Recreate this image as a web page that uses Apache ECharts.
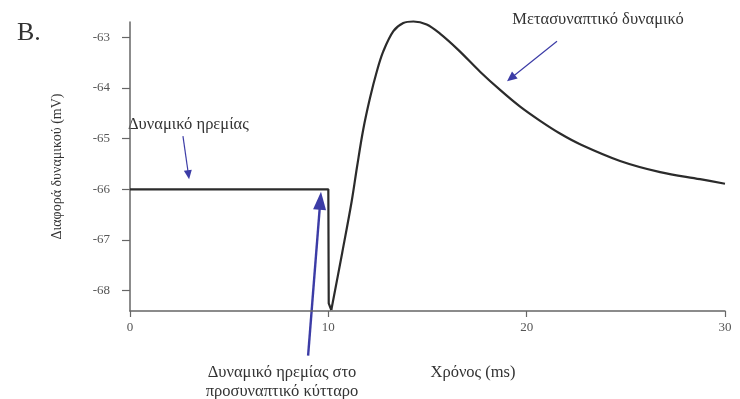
<!DOCTYPE html>
<html>
<head>
    <meta charset="utf-8">
    <title>Μετασυναπτικό δυναμικό</title>
    <script src="https://cdn.jsdelivr.net/npm/echarts@6/dist/echarts.min.js"></script>
    <style>
        html, body {margin:0;padding:0;background:#fff;}
        #chart {width:740px;height:399px;}
    </style>
</head>
<body>
<div id="chart"></div>
<script>
    // τιμές διαβασμένες από την εικόνα (ms, mV)
    var restTime = [0, 10, 10.02, 10.15];
    var restValue = [-66, -66, -68.25, -68.38];
    var postTime = [10.15, 10.7, 11.18, 11.45, 11.76, 12.1, 12.44, 12.77, 13.28, 13.78, 14.29, 14.96, 15.63, 16.55, 17.65, 18.66, 19.67, 20.68, 21.68, 22.69, 24.71, 26.73, 28.74, 30];
    var postValue = [-68.38, -67.25, -66.23, -65.55, -64.82, -64.2, -63.68, -63.28, -62.88, -62.72, -62.69, -62.75, -62.93, -63.25, -63.68, -64.04, -64.37, -64.65, -64.9, -65.11, -65.44, -65.66, -65.8, -65.89];
    var xTicks = [0, 10, 20, 30];
    var yTicks = [-68, -67, -66, -65, -64, -63];

    var FONT = 'Liberation Serif';
    var INK = '#2b2b2b';
    var BLUE = '#3c3ca6';

    function zip(a, b) {
        var out = [];
        for (var i = 0; i < a.length; i++) out.push([a[i], b[i]]);
        return out;
    }

    var chart = echarts.init(document.getElementById('chart'));
    chart.setOption({
        animation: false,
        grid: {left: 130, right: 15, top: 22, bottom: 88},
        xAxis: {
            type: 'value', min: 0, max: 30,
            splitLine: {show: false},
            axisLine: {lineStyle: {color: '#666', width: 1.5}},
            axisTick: {customValues: xTicks, length: 6, lineStyle: {color: '#666', width: 1.2}},
            axisLabel: {customValues: xTicks, margin: 10, color: '#555', fontFamily: FONT, fontSize: 13}
        },
        yAxis: {
            type: 'value', min: -68.4, max: -62.7,
            name: 'Διαφορά δυναμικού (mV)',
            nameLocation: 'middle', nameGap: 66, nameRotate: 90,
            nameTextStyle: {color: '#333', fontFamily: FONT, fontSize: 14},
            splitLine: {show: false},
            axisLine: {show: true, lineStyle: {color: '#666', width: 1.5}},
            axisTick: {show: true, customValues: yTicks, length: 8, lineStyle: {color: '#666', width: 1.2}},
            axisLabel: {customValues: yTicks, margin: 20, color: '#555', fontFamily: FONT, fontSize: 13}
        },
        series: [
            {
                type: 'line', data: zip(restTime, restValue), symbol: 'none', clip: false,
                lineStyle: {color: INK, width: 2.2}
            },
            {
                type: 'line', data: zip(postTime, postValue), symbol: 'none',
                smooth: 0.35, clip: false,
                lineStyle: {color: INK, width: 2.2}
            }
        ]
    });

    // βέλη σχολιασμού: [από, προς] σε συντεταγμένες δεδομένων
    var arrows = [
        {from: [2.67, -64.95], to: [2.98, -65.8], w: 1.2, head: 9, half: 4},
        {from: [8.98, -69.28], to: [9.63, -66.05], w: 2.4, head: 18, half: 6.5},
        {from: [21.53, -63.08], to: [19.01, -63.87], w: 1.2, head: 10, half: 4.5}
    ];

    var graphics = [];
    arrows.forEach(function (a) {
        var p0 = chart.convertToPixel({gridIndex: 0}, a.from);
        var p1 = chart.convertToPixel({gridIndex: 0}, a.to);
        var dx = p1[0] - p0[0], dy = p1[1] - p0[1];
        var len = Math.sqrt(dx * dx + dy * dy);
        var ux = dx / len, uy = dy / len;
        var bx = p1[0] - ux * a.head, by = p1[1] - uy * a.head;
        graphics.push({
            type: 'line',
            shape: {x1: p0[0], y1: p0[1], x2: bx + ux * 2, y2: by + uy * 2},
            style: {stroke: BLUE, lineWidth: a.w}
        });
        graphics.push({
            type: 'polygon',
            shape: {points: [[p1[0], p1[1]], [bx - uy * a.half, by + ux * a.half], [bx + uy * a.half, by - ux * a.half]]},
            style: {fill: BLUE}
        });
    });

    function label(text, x, y, size, align) {
        return {
            type: 'text', x: x, y: y,
            style: {text: text, fill: '#333', font: size + 'px "' + FONT + '"', textAlign: align || 'left', textVerticalAlign: 'middle'}
        };
    }

    graphics.push(label('B.', 17, 33, 26));
    graphics.push(label('Δυναμικό ηρεμίας', 128, 125, 16.5));
    graphics.push(label('Μετασυναπτικό δυναμικό', 598, 20, 16.5, 'center'));
    graphics.push(label('Χρόνος (ms)', 473, 373, 16.5, 'center'));
    graphics.push(label('Δυναμικό ηρεμίας στο', 282, 373, 16.5, 'center'));
    graphics.push(label('προσυναπτικό κύτταρο', 282, 392, 16.5, 'center'));

    chart.setOption({graphic: graphics});
</script>
</body>
</html>
